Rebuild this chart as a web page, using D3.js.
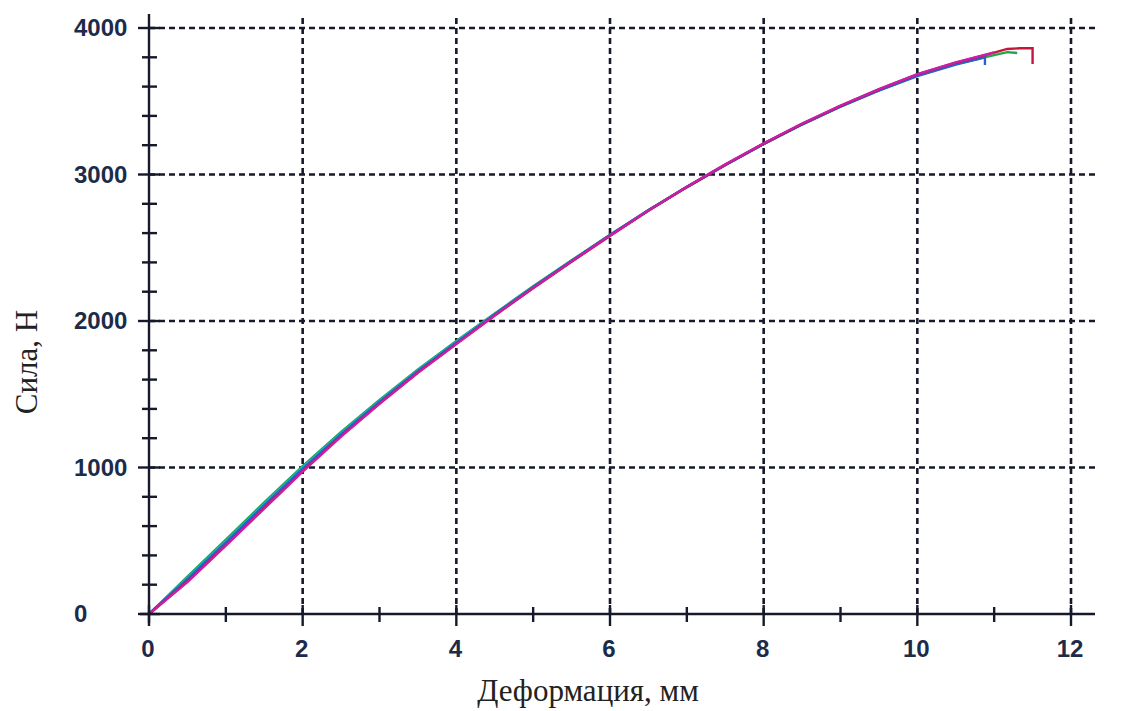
<!DOCTYPE html>
<html>
<head>
<meta charset="utf-8">
<script src="https://cdn.jsdelivr.net/npm/d3@7"></script>
<style>
  body { margin: 0; background: #fff; }
</style>
</head>
<body>
<svg id="chart" width="1124" height="711"></svg>
<script>
// strain grid (mm) shared by the main part of every curve
const strainMm = [0, 0.5, 1, 1.5, 2, 2.5, 3, 3.5, 4, 4.5, 5, 5.5, 6, 6.5, 7, 7.5, 8, 8.5, 9, 9.5, 10, 10.5, 11];
// force (N), one list per specimen
const forceRed     = [0, 222, 470, 724, 976, 1214, 1436, 1648, 1844, 2038, 2224, 2404, 2581, 2752, 2914, 3066, 3211, 3346, 3469, 3581, 3683, 3763, 3832];
const forceMagenta = [0, 218, 466, 720, 972, 1211, 1434, 1646, 1842, 2037, 2226, 2407, 2584, 2755, 2917, 3069, 3213, 3348, 3471, 3583, 3685, 3765, 3834];
const forceBlue    = [0, 238, 488, 742, 990, 1226, 1448, 1658, 1852, 2044, 2230, 2410, 2586, 2756, 2914, 3064, 3208, 3341, 3463, 3573, 3672, 3750];
const forceGreen   = [0, 256, 508, 762, 1010, 1243, 1462, 1670, 1863, 2052, 2237, 2414, 2589, 2758, 2916, 3066, 3209, 3343, 3465, 3576, 3677, 3756, 3815];
const forceCyan    = [0, 246, 498, 752, 1000, 1235, 1455, 1664, 1858, 2048, 2234, 2412, 2587, 2756, 2915, 3065, 3209, 3342, 3464, 3575, 3675, 3753];
const forceNavy    = [0, 230, 480, 734, 985, 1221, 1443, 1654, 1849, 2042, 2228, 2408, 2585, 2754, 2914, 3065, 3209, 3343, 3466, 3577, 3678, 3757];
// end of each test: [strain, force]
const tailRed   = [[11.17, 3857], [11.34, 3862], [11.5, 3862], [11.5, 3754]];
const tailGreen = [[11.17, 3835], [11.3, 3829]];
const tailBlue  = [[10.88, 3800], [10.88, 3747]];
const tailCyan  = [[10.8, 3790]];
const tailNavy  = [[10.85, 3798]];

const xTicks = [0, 2, 4, 6, 8, 10, 12];
const yTicks = [0, 1000, 2000, 3000, 4000];
const xLabel = "Деформация, мм";
const yLabel = "Сила, Н";

const series = [
  {name: "green",   force: forceGreen,   tail: tailGreen, color: "#1fa54a"},
  {name: "cyan",    force: forceCyan,    tail: tailCyan,  color: "#19b3c6"},
  {name: "navy",    force: forceNavy,    tail: tailNavy,  color: "#1b2c8c"},
  {name: "blue",    force: forceBlue,    tail: tailBlue,  color: "#2a63c8"},
  {name: "red",     force: forceRed,     tail: tailRed,   color: "#c4163a"},
  {name: "magenta", force: forceMagenta, tail: [],        color: "#c81ea8"}
];

const svg = d3.select("#chart");
const x = d3.scaleLinear().domain([0, 12]).range([149, 1071]);
const y = d3.scaleLinear().domain([0, 4000]).range([614, 28]);
const xEnd = 1095, yTop = 14;
const ink = "#15192a", labelColor = "#1c2b4a";

// dashed grid
svg.append("g").selectAll("line")
  .data(yTicks.slice(1)).enter().append("line")
  .attr("x1", x(0)).attr("x2", xEnd)
  .attr("y1", d => y(d)).attr("y2", d => y(d))
  .attr("stroke", ink).attr("stroke-width", 2.6).attr("stroke-dasharray", "6,4");
svg.append("g").selectAll("line")
  .data(xTicks.slice(1)).enter().append("line")
  .attr("x1", d => x(d)).attr("x2", d => x(d))
  .attr("y1", y(0)).attr("y2", yTop)
  .attr("stroke", ink).attr("stroke-width", 2.6).attr("stroke-dasharray", "6,4");

// curves
const line = d3.line().x(d => x(d[0])).y(d => y(d[1]));
series.forEach(s => {
  const pts = s.force.map((f, i) => [strainMm[i], f]).concat(s.tail);
  svg.append("path")
    .attr("d", line(pts))
    .attr("fill", "none")
    .attr("stroke", s.color)
    .attr("stroke-width", 2.4);
});

// axes
const xAxis = svg.append("g").attr("transform", "translate(0," + y(0) + ")");
xAxis.append("line").attr("x1", 140).attr("x2", xEnd)
  .attr("stroke", ink).attr("stroke-width", 2.4);
xAxis.selectAll(".minor").data(d3.range(1, 12, 2)).enter().append("line")
  .attr("x1", d => x(d)).attr("x2", d => x(d)).attr("y1", -7).attr("y2", 8)
  .attr("stroke", ink).attr("stroke-width", 2.4);
xAxis.selectAll(".major").data(xTicks).enter().append("line")
  .attr("x1", d => x(d)).attr("x2", d => x(d)).attr("y1", -9).attr("y2", 12)
  .attr("stroke", ink).attr("stroke-width", 2.4);
xAxis.selectAll("text").data(xTicks).enter().append("text")
  .attr("x", d => x(d) - 1).attr("y", 43)
  .attr("text-anchor", "middle")
  .attr("font-family", "Liberation Sans, Arial, sans-serif")
  .attr("font-weight", "bold").attr("font-size", 24)
  .attr("fill", labelColor)
  .text(d => d);

const yAxis = svg.append("g").attr("transform", "translate(" + x(0) + ",0)");
yAxis.append("line").attr("y1", yTop).attr("y2", 623)
  .attr("stroke", ink).attr("stroke-width", 2.4);
yAxis.selectAll(".minor").data(d3.range(200, 4000, 200).filter(v => v % 1000 !== 0)).enter().append("line")
  .attr("y1", d => y(d)).attr("y2", d => y(d)).attr("x1", -7).attr("x2", 8)
  .attr("stroke", ink).attr("stroke-width", 2.4);
yAxis.selectAll(".major").data(yTicks).enter().append("line")
  .attr("y1", d => y(d)).attr("y2", d => y(d)).attr("x1", -11).attr("x2", 11)
  .attr("stroke", ink).attr("stroke-width", 2.4);
yAxis.selectAll("text").data(yTicks).enter().append("text")
  .attr("x", -75).attr("y", d => y(d) + 8)
  .attr("text-anchor", "start")
  .attr("font-family", "Liberation Sans, Arial, sans-serif")
  .attr("font-weight", "bold").attr("font-size", 24)
  .attr("fill", labelColor)
  .text(d => d);

// axis titles
svg.append("text")
  .attr("x", 588).attr("y", 701)
  .attr("text-anchor", "middle")
  .attr("font-family", "Liberation Serif, Times New Roman, serif")
  .attr("font-size", 31).attr("fill", "#222")
  .text(xLabel);
svg.append("text")
  .attr("transform", "translate(37,362) rotate(-90)")
  .attr("text-anchor", "middle")
  .attr("font-family", "Liberation Serif, Times New Roman, serif")
  .attr("font-size", 31).attr("fill", "#222")
  .text(yLabel);
</script>
</body>
</html>
